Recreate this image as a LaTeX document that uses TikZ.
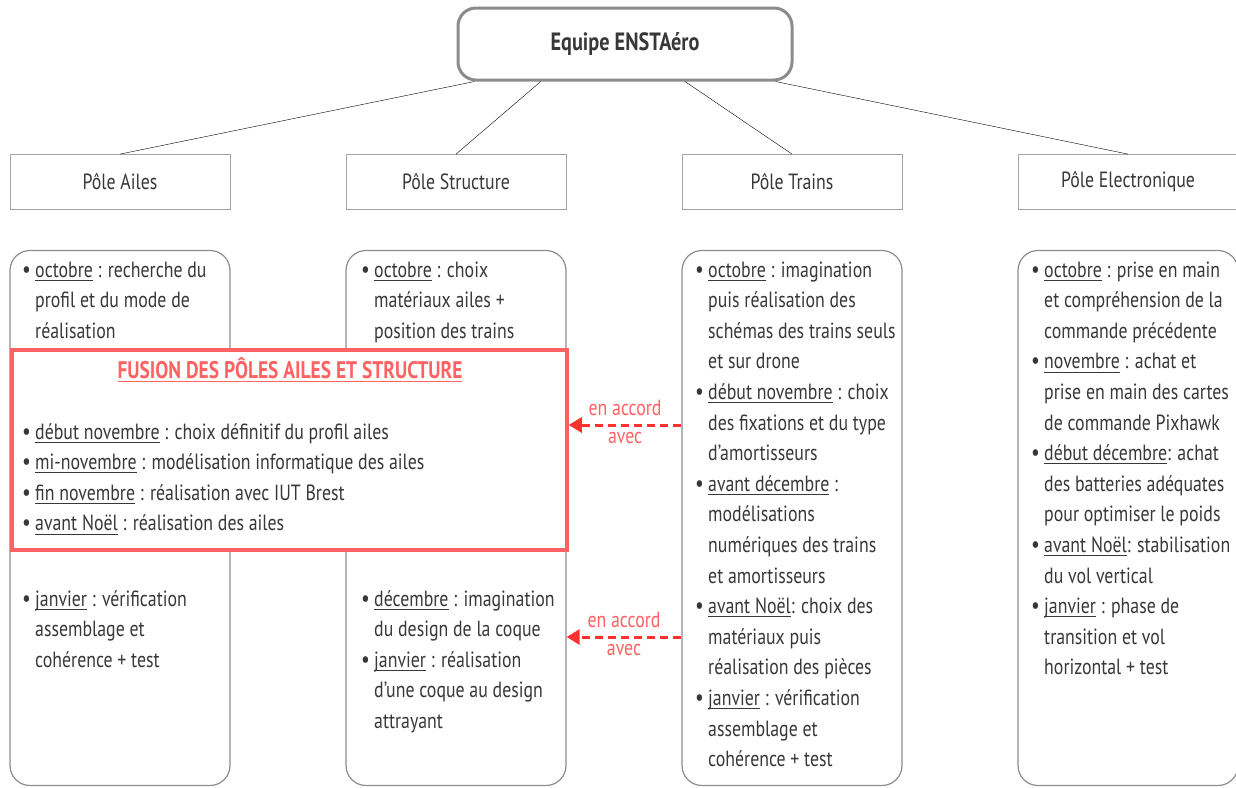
\documentclass[tikz,border=0pt]{standalone}
\usepackage{fontspec}
\setmainfont{PT Sans}[FakeStretch=0.81]
\usetikzlibrary{positioning,arrows.meta,calc}

\definecolor{boxgray}{HTML}{8C8C8C}
\definecolor{txt}{HTML}{383838}
\definecolor{fusionred}{HTML}{FF6262}
\definecolor{accordred}{HTML}{FF3030}

\newcommand{\corps}{\fontsize{22}{30.6}\selectfont}
\newcommand{\bul}{\makebox[13pt][l]{\fontsize{24}{24}\selectfont\textbullet}}
\newsavebox{\moisbox}
\newcommand{\mois}[1]{\sbox{\moisbox}{#1}\rlap{\rule[-3.5pt]{\wd\moisbox}{0.8pt}}\usebox{\moisbox}}

\begin{document}
\begin{tikzpicture}[x=1pt,y=-1pt,node distance=336pt,on grid,
    chef/.style={draw=boxgray,line width=3pt,rounded corners=18pt,fill=white,
      minimum width=334pt,minimum height=72pt,font=\fontsize{25}{30}\selectfont\bfseries,text=txt},
    pole/.style={draw=boxgray!80,line width=0.8pt,fill=white,
      minimum width=220pt,minimum height=55pt,font=\corps,text=txt},
    bloc/.style={draw=boxgray,line width=1.2pt,rounded corners=20pt,
      minimum width=220pt,minimum height=535pt},
    liste/.style={anchor=base west,inner sep=0pt,font=\corps,text=txt},
    fusion/.style={draw=fusionred,line width=3.5pt,fill=white,
      minimum width=555pt,minimum height=200pt},
    accord/.style={accordred,line width=3pt,dash pattern=on 8pt off 5pt,
      -{Triangle[length=13pt,width=15pt]}},
    lbl/.style={font=\corps,text=fusionred,inner sep=0pt}]

  \useasboundingbox (0,0) rectangle (1236,787);

  % tete et poles
  \node[chef] (equipe) at (625,44) {Equipe ENSTAéro};
  \node[pole] (ailes) at (120,182)        {Pôle Ailes};
  \node[pole] (structure) [right=of ailes]     {Pôle Structure};
  \node[pole] (trains)    [right=of structure] {Pôle Trains};
  \node[pole] (electro)   [right=of trains]    {Pôle Electronique};

  \draw (equipe.194) -- (ailes.north);
  \draw (equipe.204) -- (structure.north);
  \draw (equipe.328) -- (trains.north);
  \draw (equipe.346) -- (electro.north);

  % blocs
  \node[bloc] (blocailes)     [below=of ailes]     {};
  \node[bloc] (blocstructure) [below=of structure] {};
  \node[bloc] (bloctrains)    [below=of trains]    {};
  \node[bloc] (blocelectro)   [below=of electro]   {};

  \node[liste] (ailes1) at (22,277) {\begin{tabular}[t]{@{}l@{}l@{}}
    \bul & \mois{octobre} : recherche du\\
         & profil et du mode de\\
         & réalisation
  \end{tabular}};
  \node[liste] (ailes2) at (22,606) {\begin{tabular}[t]{@{}l@{}l@{}}
    \bul & \mois{janvier} : vérification\\
         & assemblage et\\
         & cohérence + test
  \end{tabular}};

  \node[liste] (structure1) at (361,277) {\begin{tabular}[t]{@{}l@{}l@{}}
    \bul & \mois{octobre} : choix\\
         & matériaux ailes +\\
         & position des trains
  \end{tabular}};
  \node[liste] (structure2) at (361,606) {\begin{tabular}[t]{@{}l@{}l@{}}
    \bul & \mois{décembre} : imagination\\
         & du design de la coque\\
    \bul & \mois{janvier} : réalisation\\
         & d'une coque au design\\
         & attrayant
  \end{tabular}};

  \node[liste] (trains1) at (695,277) {\begin{tabular}[t]{@{}l@{}l@{}}
    \bul & \mois{octobre} : imagination\\
         & puis réalisation des\\
         & schémas des trains seuls\\
         & et sur drone\\
    \bul & \mois{début novembre} : choix\\
         & des fixations et du type\\
         & d'amortisseurs\\
    \bul & \mois{avant décembre} :\\
         & modélisations\\
         & numériques des trains\\
         & et amortisseurs\\
    \bul & \mois{avant Noël}: choix des\\
         & matériaux puis\\
         & réalisation des pièces\\
    \bul & \mois{janvier} : vérification\\
         & assemblage et\\
         & cohérence + test
  \end{tabular}};

  \node[liste] (electro1) at (1031,277) {\begin{tabular}[t]{@{}l@{}l@{}}
    \bul & \mois{octobre} : prise en main\\
         & et compréhension de la\\
         & commande précédente\\
    \bul & \mois{novembre} : achat et\\
         & prise en main des cartes\\
         & de commande Pixhawk\\
    \bul & \mois{début décembre}: achat\\
         & des batteries adéquates\\
         & pour optimiser le poids\\
    \bul & \mois{avant Noël}: stabilisation\\
         & du vol vertical\\
    \bul & \mois{janvier} : phase de\\
         & transition et vol\\
         & horizontal + test
  \end{tabular}};

  % fusion ailes + structure
  \node[fusion] (fusion) at (289.5,450) {};
  \node[anchor=base,inner sep=0pt,font=\fontsize{24}{30}\selectfont\bfseries,text=fusionred]
    (titre) at (290,378) {\mois{FUSION DES PÔLES AILES ET STRUCTURE}};
  \node[liste] (fusion1) at (22,439) {\begin{tabular}[t]{@{}l@{}l@{}}
    \bul & \mois{début novembre} : choix définitif du profil ailes\\
    \bul & \mois{mi-novembre} : modélisation informatique des ailes\\
    \bul & \mois{fin novembre} : réalisation avec IUT Brest\\
    \bul & \mois{avant Noël} : réalisation des ailes
  \end{tabular}};

  % accords
  \draw[accord] (bloctrains.west) ++(0,-93) coordinate (s1) -- (s1 -| fusion.east)
    node[lbl,midway,yshift=17pt] {en accord}
    node[lbl,midway,yshift=-13pt] {avec};
  \draw[accord] (bloctrains.west) ++(0,119) coordinate (s2) -- (s2 -| blocstructure.east)
    node[lbl,midway,yshift=17pt] {en accord}
    node[lbl,midway,yshift=-13pt] {avec};
\end{tikzpicture}
\end{document}
